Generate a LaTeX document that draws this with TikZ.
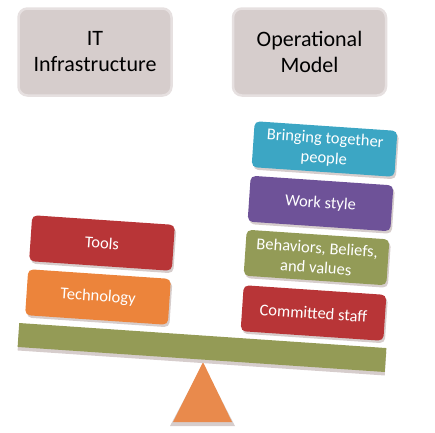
\documentclass[tikz,border=0pt]{standalone}
\usepackage{fontspec}
\setmainfont{Carlito}
\usetikzlibrary{shadows}
\definecolor{greybox}{HTML}{D6CDCC}
\definecolor{greyrim}{HTML}{E6E0E0}
\definecolor{toolred}{HTML}{B83537}
\definecolor{techorange}{HTML}{EC843B}
\definecolor{peopleblue}{HTML}{3CA6C4}
\definecolor{stylepurple}{HTML}{6E5298}
\definecolor{valuegreen}{HTML}{939B57}
\definecolor{beamgreen}{HTML}{949B56}
\definecolor{pivotorange}{HTML}{E98A4C}
\begin{document}
\begin{tikzpicture}[x=1pt, y=-1pt,
    title/.style={draw=greyrim, line width=2.5pt, fill=greybox, rounded corners=9pt,
      minimum width=153pt, minimum height=87pt, align=center,
      font=\fontsize{22}{26}\selectfont},
    block/.style={fill=#1, rounded corners=5pt, minimum width=143pt, minimum height=46pt,
      rotate=-3.9, align=center, text=white, inner sep=2pt,
      font=\fontsize{16.5}{20}\selectfont,
      drop shadow={shadow xshift=1.5pt, shadow yshift=-2.5pt, fill=greybox, opacity=1}}]
    \useasboundingbox (0,0) rectangle (435,432);

    % headings
    \node (infra) [title] at (95,52) {IT\\Infrastructure};
    \node (opmodel) [title] at (309.5,52) {Operational\\Model};

    % pivot and beam
    \fill[greybox] (203,364) -- (235,426) -- (170,426) -- cycle;
    \fill[pivotorange] (203,362) -- (232,422) -- (173,422) -- cycle;
    \node (beam) [fill=beamgreen, minimum width=368pt, minimum height=24pt, inner sep=0pt,
      rotate=-3.9, drop shadow={shadow xshift=0pt, shadow yshift=-3.5pt, fill=greybox, opacity=1}]
      at (202,347.5) {};

    % left pan
    \node (tools) [block=toolred] at (102,243) {Tools};
    \node (tech) [block=techorange] at (98,297) {Technology};

    % right pan
    \node (people) [block=peopleblue] at (324.5,149) {Bringing together\\people};
    \node (workstyle) [block=stylepurple] at (320.5,203.5) {Work style};
    \node (values) [block=valuegreen] at (316.5,257.5) {Behaviors, Beliefs,\\and values};
    \node (staff) [block=toolred] at (313.5,313) {Committed staff};
\end{tikzpicture}
\end{document}
